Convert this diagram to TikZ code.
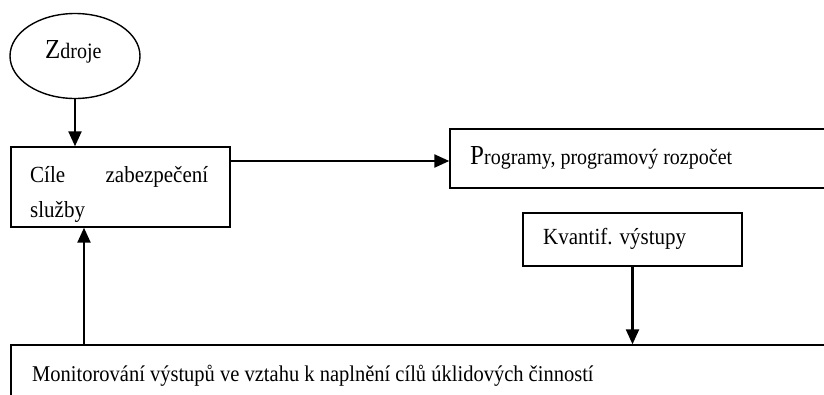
\documentclass[tikz,border=0pt]{standalone}
\usepackage{fontspec}
\setmainfont{Liberation Serif}
\usetikzlibrary{arrows.meta,shapes.geometric}

% slightly tall lettering
\newcommand{\tall}[1]{\scalebox{1}[1.1]{#1}}

\tikzset{
  box/.style={draw, rectangle, line width=1.4pt, inner sep=0pt},
  oval/.style={draw, ellipse, line width=1.4pt, inner sep=0pt},
  flow/.style={line width=2.3pt, -{Triangle[length=15pt,width=13pt]}},
  txt/.style={inner sep=0pt, anchor=base west, font=\fontsize{21}{25}\selectfont},
}

\begin{document}
\begin{tikzpicture}[x=1pt,y=-1pt]
  \useasboundingbox (0,0) rectangle (824,394);
  \clip (0,0) rectangle (824,394);

  % boxes
  \node[oval, minimum width=130pt, minimum height=85pt] (zdroje) at (75,56) {};
  \node[box, minimum width=219pt, minimum height=80pt] (cile) at (120.5,187) {};
  \node[box, minimum width=450pt, minimum height=59pt] (prog) at (675,158.5) {};
  \node[box, minimum width=219pt, minimum height=53pt] (kvant) at (632.5,239.5) {};
  \node[box, minimum width=900pt, minimum height=110pt] (monit) at (461,400) {};

  % texts
  \node[txt] (tzdroje) at (45,58) {\tall{{\fontsize{25}{30}\selectfont Z}{\fontsize{20}{24}\selectfont droje}}};
  \node[txt] (tcile) at (30,182) {\parbox[t]{178pt}{\fontsize{21}{35}\selectfont \tall{C\'ile}\hfill \tall{zabezpe\v{c}en\'i}\\\tall{slu\v{z}by}}};
  \node[txt] (tprog) at (470,164) {\tall{{\fontsize{25}{30}\selectfont P}{\fontsize{20}{24}\selectfont rogramy, programov\'y rozpo\v{c}et}}};
  \node[txt] (tkvant) at (543,244) {\tall{Kvantif. v\'ystupy}};
  \node[txt, font=\fontsize{20.5}{24}\selectfont] (tmonit) at (32,381) {\tall{Monitorov\'an\'i v\'ystup\r{u} ve vztahu k napln\v{e}n\'i c\'il\r{u} \'uklidov\'ych \v{c}innost\'i}};

  % connectors
  \coordinate (cout) at ([yshift=26pt]cile.east);
  \coordinate (cin) at ([xshift=-36.5pt]cile.south);
  \draw[flow] (zdroje.south) -- (zdroje.south |- cile.north);
  \draw[flow] (cout) -- (prog.west |- cout);
  \draw[flow] (kvant.south) -- (kvant.south |- monit.north);
  \draw[flow] (monit.north -| cin) -- (cin);
\end{tikzpicture}
\end{document}
